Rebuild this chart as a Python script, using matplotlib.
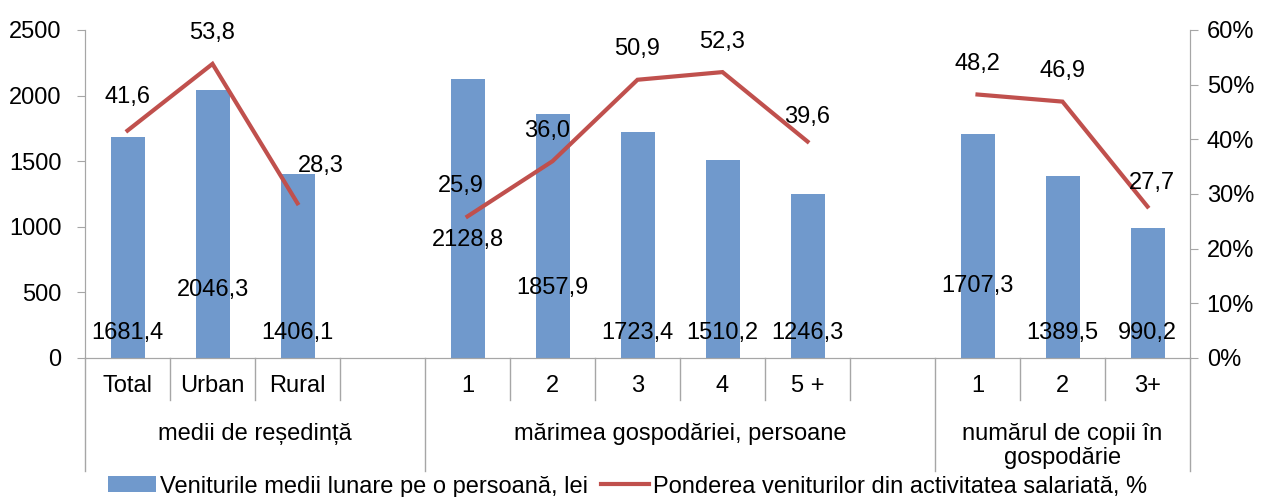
import matplotlib.pyplot as plt
import matplotlib.transforms as mtransforms
from matplotlib.patches import Patch
from matplotlib.lines import Line2D
import numpy as np

plt.rcParams['font.family'] = ['Liberation Sans', 'DejaVu Sans']
FS = 17

# categories (None = empty slot between groups)
categories = ['Total', 'Urban', 'Rural', None, '1', '2', '3', '4', '5 +', None, '1', '2', '3+']
income = [1681.4, 2046.3, 1406.1, np.nan, 2128.8, 1857.9, 1723.4, 1510.2, 1246.3, np.nan, 1707.3, 1389.5, 990.2]
share = [41.6, 53.8, 28.3, np.nan, 25.9, 36.0, 50.9, 52.3, 39.6, np.nan, 48.2, 46.9, 27.7]
groups = [('medii de reședință', 0, 3), ('mărimea gospodăriei, persoane', 4, 9),
          ('numărul de copii în\ngospodărie', 10, 12)]

# label placement (bar labels y in lei, line label offsets in points)
bar_label_y = [190, 520, 190, None, 900, 535, 190, 190, 190, None, 550, 190, 190]
line_label_off = [(0, 24), (0, 22), (17, 27), None, (-5, 22), (-4, 22), (0, 22), (0, 22),
                  (0, 18), None, (0, 22), (0, 22), (3, 17)]

bar_color = '#7099CC'
line_color = '#C0504D'
axis_color = '#A6A6A6'

fig = plt.figure(figsize=(12.61, 4.97), dpi=100)
ax = fig.add_axes([85 / 1261, 139 / 497, 1105 / 1261, 328 / 497])
ax2 = ax.twinx()

x = np.arange(len(categories))
ax.bar(x, income, width=0.4, color=bar_color, zorder=2)
ax2.plot(x, share, color=line_color, lw=3, solid_joinstyle='miter', zorder=3)

ax.set_xlim(-0.5, len(categories) - 0.5)
ax.set_ylim(0, 2500)
ax.set_yticks(range(0, 2501, 500))
ax2.set_ylim(0, 60)
ax2.set_yticks(range(0, 61, 10))
ax2.set_yticklabels([f'{t}%' for t in range(0, 61, 10)])
ax.set_xticks([])

for a in (ax, ax2):
    a.spines['top'].set_visible(False)
    for s in ('left', 'right', 'bottom'):
        a.spines[s].set_color(axis_color)
    a.tick_params(axis='y', colors=axis_color, labelcolor='black', labelsize=FS, length=6)
ax.tick_params(axis='y', pad=11)
ax2.tick_params(axis='y', pad=6)

# value labels (drawn on the top axes so the line stays above the bars)
for i, v in enumerate(income):
    if np.isnan(v):
        continue
    ax2.text(x[i], bar_label_y[i], f'{v:.1f}'.replace('.', ','), transform=ax.transData,
             ha='center', va='center', fontsize=FS, zorder=5)
for i, v in enumerate(share):
    if np.isnan(v):
        continue
    dx, dy = line_label_off[i]
    ax2.annotate(f'{v:.1f}'.replace('.', ','), (x[i], v), xytext=(dx, dy),
                 textcoords='offset points', ha='center', va='center', fontsize=FS)

# two-level category axis
trans = mtransforms.blended_transform_factory(ax.transData, ax.transAxes)
for i, c in enumerate(categories):
    if c is not None:
        ax.text(x[i], -0.085, c, transform=trans, ha='center', va='center', fontsize=FS)
short_y, long_y = -0.128, -0.345
bounds = set()
for name, lo, hi in groups:
    bounds.add(lo - 0.5)
    bounds.add(hi + 0.5)
for b in np.arange(-0.5, len(categories), 1.0):
    bottom = long_y if b in bounds else short_y
    ax.plot([b, b], [0, bottom], transform=trans, color=axis_color, lw=1, clip_on=False)
for name, lo, hi in groups:
    ax.text((lo + hi) / 2, -0.198, name, transform=trans, ha='center', va='top',
            fontsize=FS, linespacing=1.15)

handles = [Patch(facecolor=bar_color), Line2D([], [], color=line_color, lw=3)]
labels = ['Veniturile medii lunare pe o persoană, lei',
          'Ponderea veniturilor din activitatea salariată, %']
fig.legend(handles, labels, loc='center', bbox_to_anchor=(0.498, 0.021), ncol=2,
           frameon=False, fontsize=FS, handlelength=2.0, handleheight=0.65,
           handletextpad=0.2, columnspacing=0.55, borderpad=0.1)

fig.savefig('out.png', dpi=100)
